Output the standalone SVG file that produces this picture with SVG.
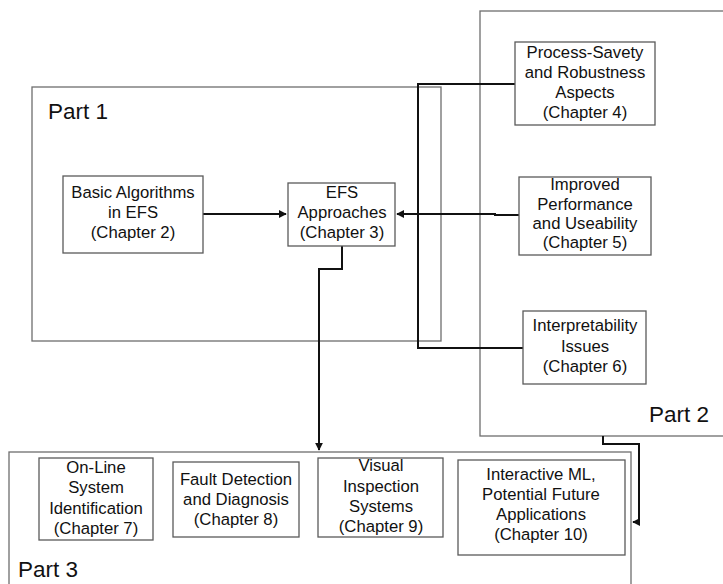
<svg xmlns="http://www.w3.org/2000/svg" width="723" height="584" viewBox="0 0 723 584">
<defs>
<style>
.part{fill:none;stroke:#6e6e6e;stroke-width:1.3}
.box{fill:#fff;stroke:#5a5a5a;stroke-width:1.3}
.t{font-family:"Liberation Sans",Arial,sans-serif;font-size:16.7px;fill:#111;text-anchor:middle}
.pt{font-family:"Liberation Sans",Arial,sans-serif;font-size:22.5px;fill:#111}
.c{fill:none;stroke:#111;stroke-width:2}
</style>
<marker id="ah" viewBox="0 0 10 10" refX="9" refY="5" markerWidth="4" markerHeight="4" orient="auto" markerUnits="strokeWidth">
<path d="M0,0 L10,5 L0,10 z" fill="#111"/>
</marker>
</defs>
<rect width="723" height="584" fill="#fff"/>
<g id="part1"><rect class="part" x="32" y="87" width="409" height="254"/><text class="pt" x="48" y="119">Part 1</text></g>
<g id="part2"><rect class="part" x="480" y="11" width="260" height="425"/><text class="pt" x="649" y="422">Part 2</text></g>
<g id="part3"><rect class="part" x="9" y="452" width="622" height="150"/><text class="pt" x="18" y="577">Part 3</text></g>
<g id="connectors">
<polyline class="c" points="515,84 418,84 418,348 523,348"/>
<line class="c" x1="203" y1="214" x2="286" y2="214" marker-end="url(#ah)"/>
<polyline class="c" points="519,215 495,215 495,214 397,214" marker-end="url(#ah)"/>
<polyline class="c" points="342,246 342,269 319,269 319,450" marker-end="url(#ah)"/>
<polyline class="c" points="603,436 603,444 639,444 639,522 633,522" marker-end="url(#ah)"/>
</g>
<g id="ch2"><rect class="box" x="63" y="176" width="140" height="77"/><text class="t" x="133" y="198">Basic Algorithms</text><text class="t" x="133" y="218">in EFS</text><text class="t" x="133" y="238">(Chapter 2)</text></g>
<g id="ch3"><rect class="box" x="288" y="183" width="107" height="63"/><text class="t" x="342" y="198">EFS</text><text class="t" x="342" y="218">Approaches</text><text class="t" x="342" y="238">(Chapter 3)</text></g>
<g id="ch4"><rect class="box" x="515" y="42" width="140" height="83"/><text class="t" x="585" y="58">Process-Savety</text><text class="t" x="585" y="78">and Robustness</text><text class="t" x="585" y="98">Aspects</text><text class="t" x="585" y="118">(Chapter 4)</text></g>
<g id="ch5"><rect class="box" x="519" y="177" width="132" height="78"/><text class="t" x="585" y="190">Improved</text><text class="t" x="585" y="210">Performance</text><text class="t" x="585" y="229">and Useability</text><text class="t" x="585" y="248">(Chapter 5)</text></g>
<g id="ch6"><rect class="box" x="523" y="311" width="123" height="73"/><text class="t" x="585" y="331">Interpretability</text><text class="t" x="585" y="352">Issues</text><text class="t" x="585" y="372">(Chapter 6)</text></g>
<g id="ch7"><rect class="box" x="39" y="458" width="114" height="82"/><text class="t" x="96" y="473">On-Line</text><text class="t" x="96" y="493">System</text><text class="t" x="96" y="514">Identification</text><text class="t" x="96" y="534">(Chapter 7)</text></g>
<g id="ch8"><rect class="box" x="173" y="462" width="126" height="75"/><text class="t" x="236" y="485">Fault Detection</text><text class="t" x="236" y="505">and Diagnosis</text><text class="t" x="236" y="525">(Chapter 8)</text></g>
<g id="ch9"><rect class="box" x="318" y="458" width="125" height="79"/><text class="t" x="381" y="471">Visual</text><text class="t" x="381" y="492">Inspection</text><text class="t" x="381" y="512">Systems</text><text class="t" x="381" y="532">(Chapter 9)</text></g>
<g id="ch10"><rect class="box" x="458" y="460" width="167" height="95"/><text class="t" x="541" y="480">Interactive ML,</text><text class="t" x="541" y="500">Potential Future</text><text class="t" x="541" y="520">Applications</text><text class="t" x="541" y="540">(Chapter 10)</text></g>
</svg>
